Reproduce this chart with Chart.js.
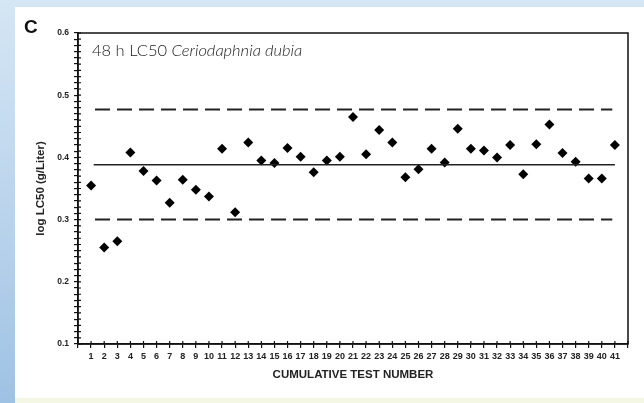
<!DOCTYPE html>
<html>
<head>
<meta charset="utf-8">
<script src="https://cdn.jsdelivr.net/npm/chart.js@4/dist/chart.umd.min.js"></script>
<style>
  html, body { margin:0; padding:0; }
  body { width:644px; height:403px; position:relative; overflow:hidden;
         background: linear-gradient(180deg, #d5e6f4 0%, #b9d3ec 55%, #9ec2e4 100%); }
  #panel { position:absolute; left:15px; top:7px; right:0; bottom:5px; background:#fff; }
  #bottomStrip { position:absolute; left:15px; right:0; bottom:0; height:5px; background:#f4f7e4; }
  #lbl { position:absolute; left:24px; top:16px; font:bold 19px "Liberation Sans", Arial, sans-serif; color:#111; }
  #chart { position:absolute; left:0; top:0; }
</style>
</head>
<body>
<div id="panel"></div>
<div id="bottomStrip"></div>
<canvas id="chart" width="644" height="403"></canvas>
<div id="lbl">C</div>
<script>
// 累積試験番号と log LC50
const testNo = [1,2,3,4,5,6,7,8,9,10,11,12,13,14,15,16,17,18,19,20,
                21,22,23,24,25,26,27,28,29,30,31,32,33,34,35,36,37,38,39,40,41];
const logLC50 = [0.355,0.255,0.265,0.408,0.378,0.363,0.327,0.364,0.348,0.337,
                 0.414,0.312,0.424,0.395,0.391,0.415,0.401,0.376,0.395,0.401,
                 0.465,0.405,0.444,0.424,0.368,0.381,0.414,0.392,0.446,0.414,
                 0.411,0.400,0.420,0.373,0.421,0.453,0.407,0.393,0.366,0.366,0.420];
const meanVal  = 0.388;  // 平均
const upperLim = 0.477;  // 上限 (+2SD)
const lowerLim = 0.300;  // 下限 (-2SD)
const limitX   = [1.3, 40.8];
const meanX    = [1.2, 41.0];
const yMajor   = [0.1, 0.2, 0.3, 0.4, 0.5, 0.6];
const inPlotLabel = ["48 h LC50 ", "Ceriodaphnia dubia"];

const FONT = '"Liberation Sans", Arial, sans-serif';

// 軸の内側の目盛りと枠
const frame = {
  id: "frame",
  afterDraw(c){
    const {ctx, chartArea:a, scales} = c;
    ctx.save();
    ctx.strokeStyle = "#111";
    ctx.lineWidth = 1.5;
    ctx.strokeRect(a.left, a.top, a.right - a.left, a.bottom - a.top);
    ctx.lineWidth = 1.2;
    ctx.beginPath();
    scales.y.ticks.forEach((t,i)=>{
      const p = scales.y.getPixelForTick(i);
      ctx.moveTo(a.left, p); ctx.lineTo(a.left + 3, p);
    });
    scales.x.ticks.forEach((t,i)=>{
      const p = scales.x.getPixelForTick(i);
      ctx.moveTo(p, a.bottom); ctx.lineTo(p, a.bottom - 3);
    });
    ctx.stroke();
    // 図中ラベル
    ctx.fillStyle = "#1a1a1a";
    ctx.textBaseline = "alphabetic";
    ctx.font = '300 16.5px Lato, "Open Sans", sans-serif';
    const x0 = a.left + 14, y0 = a.top + 23;
    ctx.fillText(inPlotLabel[0], x0, y0);
    const w = ctx.measureText(inPlotLabel[0]).width;
    ctx.font = 'italic 300 16.5px Lato, "Open Sans", sans-serif';
    ctx.fillText(inPlotLabel[1], x0 + w, y0);
    ctx.restore();
  }
};

const hline = (xs, y) => xs.map(x => ({x, y}));

new Chart(document.getElementById("chart"), {
  type: "scatter",
  data: {
    datasets: [
      { data: hline(limitX, upperLim), showLine: true, borderColor: "#222", borderWidth: 2,
        borderDash: [15, 7], pointRadius: 0 },
      { data: hline(limitX, lowerLim), showLine: true, borderColor: "#222", borderWidth: 2,
        borderDash: [15, 7], pointRadius: 0 },
      { data: hline(meanX, meanVal), showLine: true, borderColor: "#222", borderWidth: 1.5,
        pointRadius: 0 },
      { data: testNo.map((n,i)=>({x:n, y:logLC50[i]})), pointStyle: "rectRot",
        pointRadius: 5, backgroundColor: "#000", borderColor: "#000", borderWidth: 0 }
    ]
  },
  options: {
    responsive: false,
    animation: false,
    devicePixelRatio: 1,
    layout: { padding: { left: 34, top: 33, right: 16, bottom: 21 } },
    plugins: { legend: { display: false }, tooltip: { enabled: false } },
    scales: {
      x: {
        type: "linear", min: 0, max: 42,
        afterFit(s){ s.height = 38; },
        border: { display: true, color: "#111", width: 1.5 },
        grid: { drawOnChartArea: false, drawTicks: true, tickLength: 4, color: "#111", lineWidth: 1.2 },
        ticks: { stepSize: 1, maxTicksLimit: 100, autoSkip: false, maxRotation: 0, padding: 3,
                 color: "#222", font: { family: FONT, size: 9, weight: "bold" },
                 callback: v => (v >= 1 && v <= 41) ? String(v) : "" },
        title: { display: true, text: "CUMULATIVE TEST NUMBER", color: "#222",
                 font: { family: FONT, size: 11.5, weight: "bold" }, padding: { top: 4, bottom: 0 } }
      },
      y: {
        type: "linear", min: 0.1, max: 0.6,
        afterFit(s){ s.width = 44; },
        border: { display: true, color: "#111", width: 1.5 },
        grid: { drawOnChartArea: false, drawTicks: true, tickLength: 4, color: "#111", lineWidth: 1.2 },
        ticks: { stepSize: 0.01, maxTicksLimit: 100, autoSkip: false, padding: 5,
                 color: "#222", font: { family: FONT, size: 8.5, weight: "bold" },
                 callback: v => {
                   const m = yMajor.find(t => Math.abs(t - v) < 1e-6);
                   return m !== undefined ? m.toFixed(1) : "";
                 } },
        title: { display: true, text: "log LC50 (g/Liter)", color: "#222",
                 font: { family: FONT, size: 11.5, weight: "bold" }, padding: { top: 0, bottom: 2 } }
      }
    }
  },
  plugins: [frame]
});
</script>
</body>
</html>
